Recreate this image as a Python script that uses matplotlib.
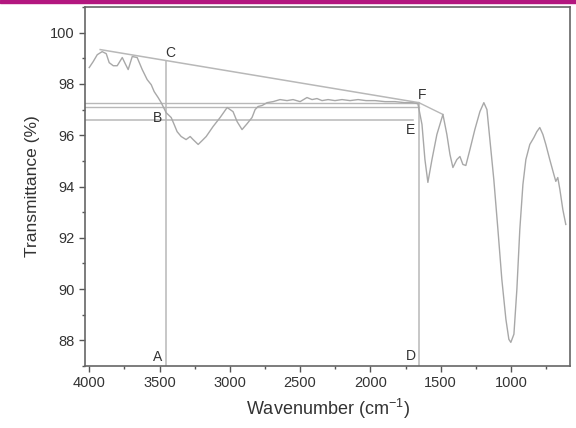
"""
FTIR spectrum with baseline construction lines (A-F).
"""

import numpy as np
import matplotlib
matplotlib.use("Agg")
import matplotlib.pyplot as plt
from matplotlib.patches import Rectangle
from matplotlib.ticker import MultipleLocator

plt.rcParams['font.family'] = ['Liberation Sans', 'DejaVu Sans']
plt.rcParams['mathtext.default'] = 'regular'

# spectrum (wavenumber cm-1, transmittance %)
wavenumber = [4000, 3972, 3943, 3908, 3879, 3858, 3829, 3801, 3765, 3744,
              3723, 3694, 3659, 3623, 3588, 3559, 3538, 3510, 3488, 3453,
              3417, 3396, 3375, 3346, 3311, 3282, 3261, 3225, 3197, 3168,
              3119, 3069, 3019, 2998, 2977, 2948, 2913, 2877, 2842, 2820,
              2799, 2770, 2735, 2692, 2643, 2593, 2550, 2500, 2451, 2415,
              2380, 2344, 2301, 2252, 2202, 2145, 2088, 2031, 1967, 1896,
              1825, 1754, 1704, 1662, 1633, 1612, 1591, 1562, 1527, 1484,
              1456, 1434, 1413, 1385, 1363, 1342, 1321, 1292, 1257, 1221,
              1193, 1171, 1150, 1122, 1093, 1065, 1036, 1015, 1001, 979,
              958, 937, 915, 894, 866, 837, 816, 795, 773, 752,
              724, 695, 681, 667, 652, 631, 610]
transmittance = [98.64, 98.87, 99.14, 99.26, 99.18, 98.83, 98.71, 98.71, 99.03, 98.79,
                 98.56, 99.07, 99.03, 98.56, 98.17, 97.97, 97.70, 97.47, 97.27, 96.88,
                 96.69, 96.42, 96.14, 95.95, 95.83, 95.95, 95.83, 95.64, 95.79, 95.95,
                 96.34, 96.69, 97.08, 97.00, 96.92, 96.53, 96.22, 96.45, 96.69, 97.00,
                 97.12, 97.16, 97.27, 97.31, 97.39, 97.35, 97.39, 97.31, 97.47, 97.39,
                 97.43, 97.35, 97.39, 97.35, 97.39, 97.35, 97.39, 97.35, 97.35, 97.31,
                 97.31, 97.27, 97.27, 97.23, 96.42, 95.05, 94.16, 95.05, 96.03, 96.81,
                 96.03, 95.25, 94.74, 95.05, 95.17, 94.86, 94.82, 95.44, 96.22, 96.92,
                 97.27, 97.00, 95.83, 94.27, 92.33, 90.38, 88.82, 88.04, 87.92, 88.24,
                 89.99, 92.33, 94.08, 95.05, 95.64, 95.91, 96.14, 96.30, 96.03, 95.64,
                 95.05, 94.47, 94.20, 94.35, 93.88, 93.10, 92.52]

# construction points
c_start = (3922, 99.34)
f_point = (1655, 97.27)
shoulder = (1484, 96.81)
a_x = 3453
level_upper = [97.27, 97.12]
level_lower = 96.60
e_x = 1700

# point labels
letters = ['A', 'B', 'C', 'D', 'E', 'F']
letter_x = [3517, 3517, 3424, 1711, 1718, 1633]
letter_y = [87.35, 96.69, 99.22, 87.40, 96.20, 97.55]

grey = '#a8a8a8'
line_grey = '#b8b8b8'

fig = plt.figure(figsize=(5.76, 4.28), dpi=100)
fig.patches.append(Rectangle((0, 0.993), 1, 0.007, transform=fig.transFigure,
                             color='#b3177f', zorder=0))
ax = fig.add_axes([0.1476, 0.1449, 0.842, 0.8387])

ax.plot(wavenumber, transmittance, color=grey, lw=1.0, zorder=3)

# C-F baseline and segment from F to shoulder
ax.plot([c_start[0], f_point[0]], [c_start[1], f_point[1]], color=line_grey, lw=1.1)
ax.plot([f_point[0], shoulder[0]], [f_point[1], shoulder[1]], color=line_grey, lw=1.0)

# vertical lines A-C and D-F
top_a = c_start[1] + (a_x - c_start[0]) / (f_point[0] - c_start[0]) * (f_point[1] - c_start[1])
ax.plot([a_x, a_x], [87, top_a], color=line_grey, lw=1.1)
ax.plot([f_point[0], f_point[0]], [87, f_point[1]], color=line_grey, lw=1.1)

# horizontal levels
for lv in level_upper:
    ax.plot([4030, f_point[0]], [lv, lv], color=line_grey, lw=1.0)
ax.plot([4030, e_x], [level_lower, level_lower], color=line_grey, lw=1.1)

for t, x, y in zip(letters, letter_x, letter_y):
    ax.text(x, y, t, fontsize=10, color='#333333', ha='center', va='center', zorder=5)

ax.set_xlim(4030, 580)
ax.set_ylim(87, 101)
ax.xaxis.set_major_locator(MultipleLocator(500))
ax.xaxis.set_minor_locator(MultipleLocator(250))
ax.yaxis.set_major_locator(MultipleLocator(2))
ax.yaxis.set_minor_locator(MultipleLocator(1))
ax.tick_params(which='both', direction='out', colors='#555555', labelcolor='#333333',
               labelsize=10.5, width=1.0)
ax.tick_params(which='major', length=4)
ax.tick_params(which='minor', length=2.5)
for s in ax.spines.values():
    s.set_color('#666666')
    s.set_linewidth(1.2)

ax.set_xlabel("Wavenumber (cm$^{-1}$)", fontsize=13, color='#333333', labelpad=5)
ax.set_ylabel("Transmittance (%)", fontsize=12.5, color='#333333', labelpad=7)

fig.savefig("out.png", dpi=100)
